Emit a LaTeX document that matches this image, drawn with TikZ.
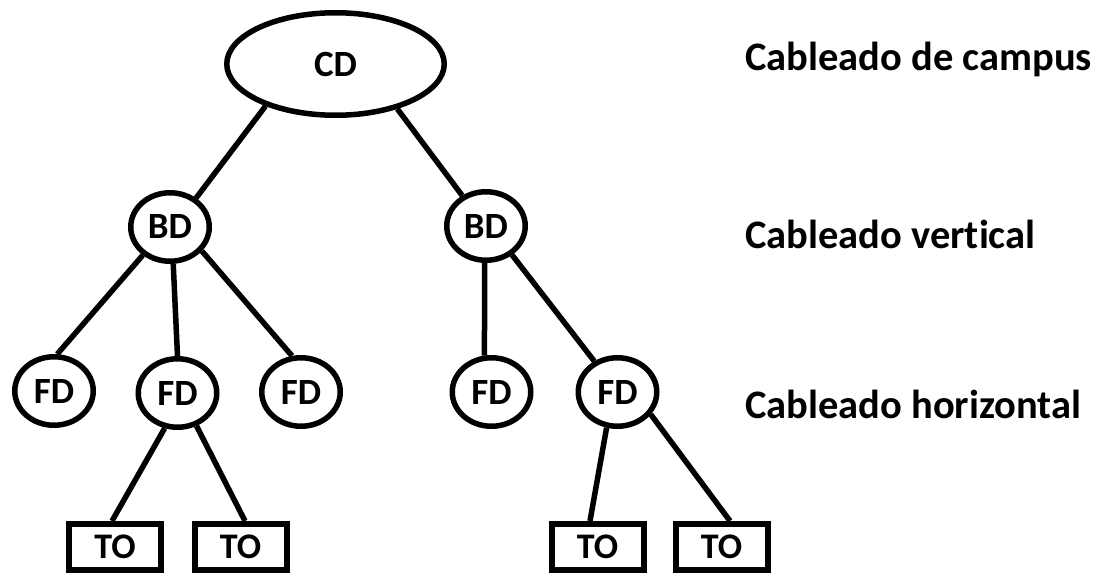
\documentclass[tikz,border=0pt]{standalone}
\usepackage{fontspec}
\setmainfont{Carlito}[Ligatures=NoCommon]
\usetikzlibrary{shapes.geometric}
\begin{document}
\begin{tikzpicture}[x=1pt,y=-1pt,
  lw/.style={line width=5.5pt},
  oval/.style={ellipse,draw,lw,inner sep=0pt,minimum width=78.5pt,minimum height=68.5pt,
    font=\fontsize{37}{40}\selectfont\bfseries},
  bigoval/.style={oval,minimum width=217.5pt,minimum height=102.5pt},
  tobox/.style={rectangle,draw,line width=6pt,inner sep=0pt,minimum width=92pt,minimum height=46pt,
    font=\fontsize{36}{40}\selectfont\bfseries},
  link/.style={lw},
  level/.style={anchor=base west,inner sep=0pt,font=\fontsize{40.5}{44}\selectfont\bfseries}]
\useasboundingbox (0,0) rectangle (1100,573);
\fill[white] (0,0) rectangle (1100,573);
\node[bigoval] (CD) at (335.5,64) {CD};
\node[oval] (BDl) at (170,227) {BD};
\node[oval] (BDr) at (486,226) {BD};
\node[oval] (FD1) at (54,391) {FD};
\node[oval] (FD2) at (177.5,393) {FD};
\node[oval] (FD3) at (301,392) {FD};
\node[oval] (FD4) at (491.5,392) {FD};
\node[oval] (FD5) at (617.5,392) {FD};
\node[tobox] (TO1) at (115,547) {TO};
\node[tobox] (TO2) at (240.5,547) {TO};
\node[tobox] (TO3) at (597.5,547) {TO};
\node[tobox] (TO4) at (721.5,547) {TO};
\draw[link] (CD.211) -- (BDl.48);
\draw[link] (CD.324) -- (BDr.128);
\draw[link] (BDl.226) -- (FD1.85);
\draw[link] (BDl.275) -- (FD2.90);
\draw[link] (BDl.323) -- (FD3.104);
\draw[link] (BDr.268) -- (FD4.101);
\draw[link] (BDr.312) -- (FD5.127);
\draw[link] (FD2.250) -- ([xshift=-3pt]TO1.north);
\draw[link] (FD2.300) -- ([xshift=4.5pt]TO2.north);
\draw[link] (FD5.253) -- ([xshift=-7.5pt]TO3.north);
\draw[link] (FD5.326) -- ([xshift=8.5pt]TO4.north);
\node[level] (L1) at (745,70) {Cableado de campus};
\node[level] (L2) at (745,248) {Cableado vertical};
\node[level] (L3) at (745,418) {Cableado horizontal};
\end{tikzpicture}
\end{document}
